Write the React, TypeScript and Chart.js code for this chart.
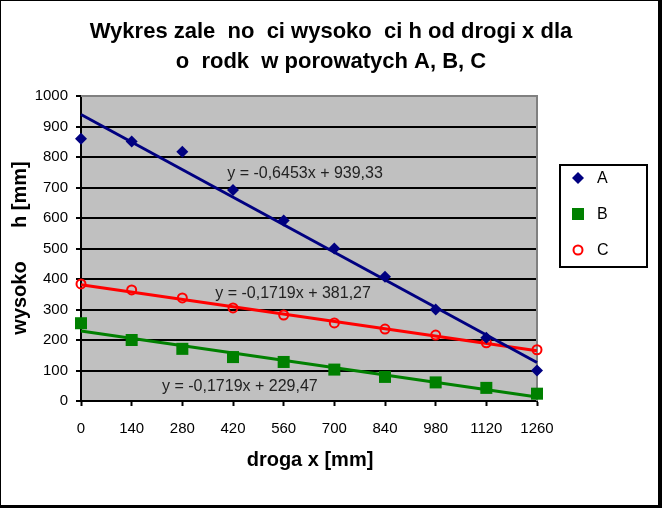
import React, { useEffect, useRef } from 'react';
import { Chart, registerables } from 'chart.js';

Chart.register(...registerables);

// ---- data ----
const xValues = [0, 140, 280, 420, 560, 700, 840, 980, 1120, 1260];
const seriesA = [860, 851, 817, 692, 592, 500, 407, 300, 207, 100];
const seriesB = [255, 200, 171, 144, 128, 103, 79, 61, 43, 24];
const seriesC = [384, 364, 338, 305, 282, 256, 236, 216, 191, 168];
const seriesNames = ['A', 'B', 'C'];
const xTicks = [0, 140, 280, 420, 560, 700, 840, 980, 1120, 1260];
const yTicks = [0, 100, 200, 300, 400, 500, 600, 700, 800, 900, 1000];
const trendSlopes = [-0.6453, -0.1719, -0.1719];
const trendIntercepts = [939.33, 229.47, 381.27];
const trendLabels = ['y = -0,6453x + 939,33', 'y = -0,1719x + 229,47', 'y = -0,1719x + 381,27'];
const titleLines = ['Wykres zale  no  ci wysoko  ci h od drogi x dla', 'o  rodk  w porowatych A, B, C'];
const xTitle = 'droga x [mm]';
const yTitle = 'wysoko      h [mm]';

// ---- styles ----
const FONT = '"Liberation Sans", Arial, sans-serif';
const colors = ['#000080', '#008000', '#ff0000'];
const pointStyles = ['rectRot', 'rect', 'circle'];
const pointRadii = [6, 8.5, 4.5];
// label anchors in data units (x, y)
const labelAnchors = [
  [619, 744],
  [439, 46],
  [586, 351],
];

function drawMarker(ctx: CanvasRenderingContext2D, i: number, x: number, y: number) {
  ctx.save();
  ctx.fillStyle = colors[i];
  ctx.strokeStyle = colors[i];
  if (i === 0) {
    const r = 6;
    ctx.beginPath();
    ctx.moveTo(x - r, y);
    ctx.lineTo(x, y - r);
    ctx.lineTo(x + r, y);
    ctx.lineTo(x, y + r);
    ctx.closePath();
    ctx.fill();
  } else if (i === 1) {
    ctx.fillRect(x - 6, y - 6, 12, 12);
  } else {
    ctx.lineWidth = 2;
    ctx.beginPath();
    ctx.arc(x, y, 4.5, 0, Math.PI * 2);
    ctx.stroke();
  }
  ctx.restore();
}

const decor = {
  id: 'decor',
  beforeDraw(chart: any) {
    const { ctx, chartArea: a, width, height } = chart;
    ctx.save();
    ctx.fillStyle = '#ffffff';
    ctx.fillRect(0, 0, width, height);
    ctx.fillStyle = '#000000';
    ctx.fillRect(0, 0, width, 1);
    ctx.fillRect(0, 0, 1, height);
    ctx.fillRect(width - 4, 0, 4, height);
    ctx.fillRect(0, height - 3, width, 3);
    ctx.fillStyle = '#c0c0c0';
    ctx.fillRect(a.left, a.top, a.right - a.left, a.bottom - a.top);
    ctx.restore();
  },
  beforeDatasetsDraw(chart: any) {
    const { ctx, chartArea: a } = chart;
    ctx.save();
    ctx.strokeStyle = '#808080';
    ctx.lineWidth = 2;
    ctx.beginPath();
    ctx.moveTo(a.left, a.top);
    ctx.lineTo(a.right, a.top);
    ctx.lineTo(a.right, a.bottom);
    ctx.stroke();
    ctx.restore();
  },
  afterDraw(chart: any) {
    const { ctx } = chart;
    const xs = chart.scales.x;
    const ys = chart.scales.y;
    ctx.save();
    ctx.fillStyle = '#000';
    ctx.textAlign = 'center';
    ctx.textBaseline = 'middle';
    // title
    ctx.font = `bold 22px ${FONT}`;
    ctx.fillText(titleLines[0], 331, 32);
    ctx.fillText(titleLines[1], 331, 62);
    // axis titles
    ctx.font = `bold 20px ${FONT}`;
    ctx.fillText(xTitle, 310, 460);
    ctx.save();
    ctx.translate(20, 248);
    ctx.rotate(-Math.PI / 2);
    ctx.fillText(yTitle, 0, 0);
    ctx.restore();
    // trend equations
    ctx.font = `16px ${FONT}`;
    ctx.fillStyle = '#222';
    labelAnchors.forEach((p, i) => {
      ctx.fillText(trendLabels[i], xs.getPixelForValue(p[0]), ys.getPixelForValue(p[1]));
    });
    // legend
    ctx.fillStyle = '#fff';
    ctx.fillRect(559, 164, 89, 104);
    ctx.strokeStyle = '#000';
    ctx.lineWidth = 2;
    ctx.strokeRect(560, 165, 87, 102);
    ctx.font = `16px ${FONT}`;
    ctx.textAlign = 'left';
    seriesNames.forEach((name, i) => {
      const y = 178 + i * 36;
      drawMarker(ctx, i, 578, y);
      ctx.fillStyle = '#000';
      ctx.fillText(name, 597, y + 1);
    });
    ctx.restore();
  },
};

export default function App() {
  const ref = useRef<HTMLCanvasElement | null>(null);

  useEffect(() => {
    document.body.style.margin = '0';
    const series = [seriesA, seriesB, seriesC];
    const pointSets: any[] = series.map((s, i) => ({
      type: 'scatter',
      label: seriesNames[i],
      data: xValues.map((x, j) => ({ x, y: s[j] })),
      pointStyle: pointStyles[i],
      pointRadius: pointRadii[i],
      pointBackgroundColor: i === 2 ? 'rgba(0,0,0,0)' : colors[i],
      pointBorderColor: colors[i],
      pointBorderWidth: i === 2 ? 2 : 0,
      showLine: false,
      clip: false,
      order: 0,
    }));
    const xMin = xTicks[0];
    const xMax = xTicks[xTicks.length - 1];
    const trendSets: any[] = trendSlopes.map((m, i) => ({
      type: 'line',
      label: 'trend ' + seriesNames[i],
      data: [
        { x: xMin, y: trendIntercepts[i] + m * xMin },
        { x: xMax, y: trendIntercepts[i] + m * xMax },
      ],
      borderColor: colors[i],
      borderWidth: 3,
      pointRadius: 0,
      showLine: true,
      fill: false,
      clip: false,
      order: 1,
    }));

    const chart = new Chart(ref.current as HTMLCanvasElement, {
      type: 'scatter',
      data: { datasets: [...pointSets, ...trendSets] },
      options: {
        responsive: false,
        animation: false,
        devicePixelRatio: 1,
        layout: { padding: { left: 31, top: 96, right: 125, bottom: 67 } },
        plugins: {
          legend: { display: false },
          title: { display: false },
          tooltip: { enabled: false },
        },
        scales: {
          x: {
            type: 'linear',
            min: xMin,
            max: xMax,
            afterBuildTicks: (s: any) => {
              s.ticks = xTicks.map((v) => ({ value: v }));
            },
            afterFit: (s: any) => {
              s.height = 40;
            },
            ticks: {
              color: '#000',
              font: { family: FONT, size: 15 },
              padding: 14,
              maxRotation: 0,
              autoSkip: false,
              callback: (v: any) => String(v),
            },
            grid: {
              drawOnChartArea: false,
              drawTicks: true,
              tickLength: 5,
              tickColor: '#000',
              tickWidth: 2,
            },
            border: { display: true, color: '#000', width: 2 },
          },
          y: {
            type: 'linear',
            min: yTicks[0],
            max: yTicks[yTicks.length - 1],
            afterBuildTicks: (s: any) => {
              s.ticks = yTicks.map((v) => ({ value: v }));
            },
            afterFit: (s: any) => {
              s.width = 50;
            },
            ticks: {
              color: '#000',
              font: { family: FONT, size: 15 },
              padding: 8,
              autoSkip: false,
              callback: (v: any) => String(v),
            },
            grid: {
              color: (c: any) => (c.tick && c.tick.value === 1000 ? '#808080' : '#000'),
              lineWidth: 2,
              drawTicks: true,
              tickLength: 5,
              tickColor: '#000',
              tickWidth: 2,
            },
            border: { display: true, color: '#000', width: 2 },
          },
        },
      },
      plugins: [decor],
    } as any);

    return () => chart.destroy();
  }, []);

  return (
    <div style={{ position: 'absolute', left: 0, top: 0, width: 662, height: 508 }}>
      <canvas ref={ref} width={662} height={508} style={{ display: 'block', width: 662, height: 508 }} />
    </div>
  );
}
